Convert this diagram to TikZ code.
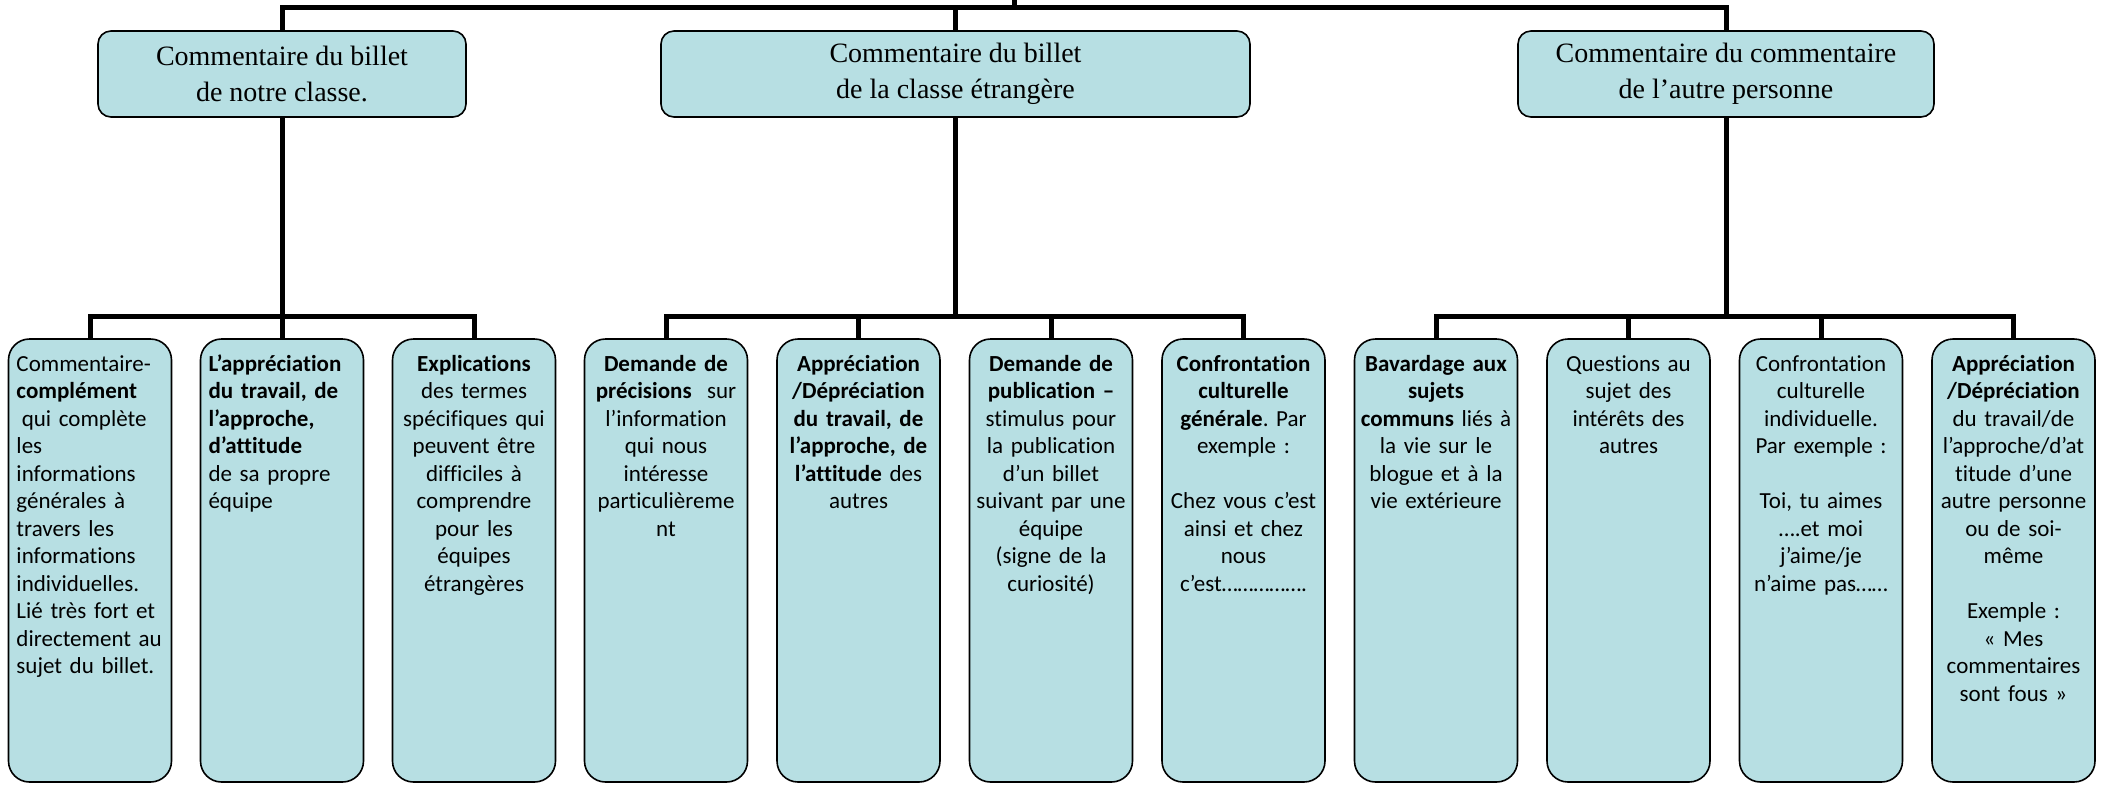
\documentclass[tikz,border=0pt]{standalone}
\usepackage{fontspec}
\setmainfont{Liberation Serif}[Ligatures=ResetAll]
\newfontfamily\carl{Carlito}[Ligatures={TeX,NoCommon}]
\usetikzlibrary{calc}
\definecolor{boxfill}{RGB}{183,223,227}
\frenchspacing
\begin{document}
\begin{tikzpicture}[x=0.5pt,y=-0.5pt,
  conn/.style={line width=2.5pt},
  topbox/.style={draw, line width=0.8pt, fill=boxfill, rounded corners=6.5pt,
    minimum width=#1, minimum height=43pt, inner sep=0pt, align=center,
    font=\fontsize{14}{18}\selectfont},
  botbox/.style={draw, line width=0.8pt, fill=boxfill, rounded corners=10.5pt,
    minimum width=81.5pt, minimum height=221.5pt, inner sep=0pt},
  txtC/.style={anchor=base, inner sep=0pt, text width=80pt, align=center,
    font=\carl\fontsize{11.5}{13.75}\selectfont\frenchspacing, yshift=-16.5pt},
  txtL/.style={txtC, text width=73.5pt, align=left}
]
\useasboundingbox (0,0) rectangle (2101,784);

% top level boxes
\node[topbox=184pt]   (A) at (282,74)    {Commentaire du billet\\de notre classe.};
\node[topbox=294.5pt] (B) at (955.5,74)  {Commentaire du billet\\de la classe étrangère};
\node[topbox=208pt]   (C) at (1726,74)   {Commentaire du commentaire\\de l'autre personne};

% bottom boxes
\node[botbox] (b1)  at (90,560.5)     {};
\node[botbox] (b2)  at (282,560.5)    {};
\node[botbox] (b3)  at (474,560.5)    {};
\node[botbox] (b4)  at (666,560.5)    {};
\node[botbox] (b5)  at (858.5,560.5)  {};
\node[botbox] (b6)  at (1051,560.5)   {};
\node[botbox] (b7)  at (1243.5,560.5) {};
\node[botbox] (b8)  at (1436,560.5)   {};
\node[botbox] (b9)  at (1628.5,560.5) {};
\node[botbox] (b10) at (1821,560.5)   {};
\node[botbox] (b11) at (2013.5,560.5) {};

% texts
\node[txtL] (t1) at (b1.north) {Commentaire-\\\textbf{complément}\\\hspace*{0.23em}qui complète\\les\\informations\\générales à\\travers les\\informations\\individuelles.\\Lié très fort et\\directement au\\sujet du billet.};
\node[txtL] (t2) at (b2.north) {\textbf{L’appréciation}\\\textbf{du travail, de}\\\textbf{l’approche,}\\\textbf{d’attitude}\\de sa propre\\équipe};
\node[txtC] (t3) at (b3.north) {\textbf{Explications}\\des termes\\spécifiques qui\\peuvent être\\difficiles à\\comprendre\\pour les\\équipes\\étrangères};
\node[txtC] (t4) at (b4.north) {\textbf{Demande de}\\\textbf{précisions}\ \ sur\\l’information\\qui nous\\intéresse\\particulièreme\\nt};
\node[txtC] (t5) at (b5.north) {\textbf{Appréciation}\\\textbf{/Dépréciation}\\\textbf{du travail, de}\\\textbf{l’approche, de}\\\textbf{l’attitude} des\\autres};
\node[txtC] (t6) at (b6.north) {\textbf{Demande de}\\\textbf{publication –}\\stimulus pour\\la publication\\d’un billet\\suivant par une\\équipe\\(signe de la\\curiosité)};
\node[txtC] (t7) at (b7.north) {\textbf{Confrontation}\\\textbf{culturelle}\\\textbf{générale}. Par\\exemple :\\[13.75pt]Chez vous c’est\\ainsi et chez\\nous\\c’est…………….};
\node[txtC] (t8) at (b8.north) {\textbf{Bavardage aux}\\\textbf{sujets}\\\textbf{communs} liés à\\la vie sur le\\blogue et à la\\vie extérieure};
\node[txtC] (t9) at (b9.north) {Questions au\\sujet des\\intérêts des\\autres};
\node[txtC] (t10) at (b10.north) {Confrontation\\culturelle\\individuelle.\\Par exemple :\\[13.75pt]Toi, tu aimes\\….et moi\\j’aime/je\\n’aime pas……};
\node[txtC] (t11) at (b11.north) {\textbf{Appréciation}\\\textbf{/Dépréciation}\\du travail/de\\l’approche/d’at\\titude d’une\\autre personne\\ou de soi-\\même\\[13.75pt]Exemple :\\« Mes\\commentaires\\sont fous »};

% connectors
\coordinate (root) at (1014,0);
\coordinate (topbar) at (0,7);
\coordinate (midbar) at (0,316);
\draw[conn] (root) -- (root|-topbar);
\draw[conn] (A.north) |- (C.north|-topbar) -- (C.north);
\draw[conn] (B.north) -- (B.north|-topbar);

\draw[conn] (A.south) -- (b2.north);
\draw[conn] (b1.north) |- (b3.north|-midbar) -- (b3.north);

\draw[conn] (B.south) -- (B.south|-midbar);
\draw[conn] (b4.north) |- (b7.north|-midbar) -- (b7.north);
\draw[conn] (b5.north) -- (b5.north|-midbar);
\draw[conn] (b6.north) -- (b6.north|-midbar);

\draw[conn] (C.south) -- (C.south|-midbar);
\draw[conn] (b8.north) |- (b11.north|-midbar) -- (b11.north);
\draw[conn] (b9.north) -- (b9.north|-midbar);
\draw[conn] (b10.north) -- (b10.north|-midbar);
\end{tikzpicture}
\end{document}
